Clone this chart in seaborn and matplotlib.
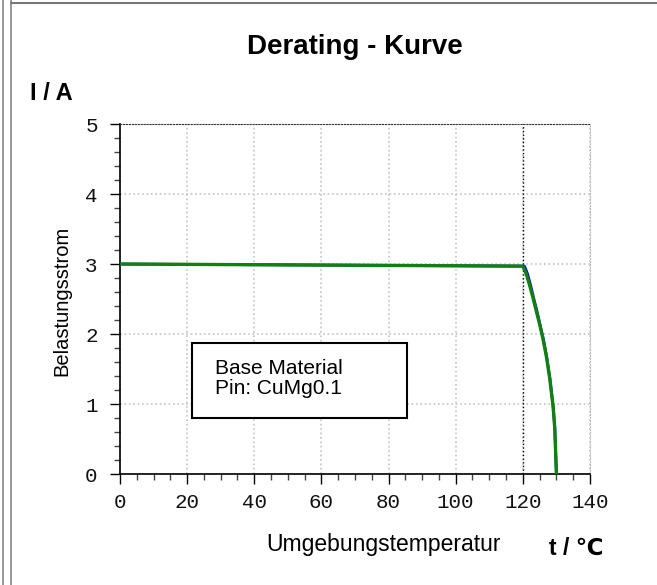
import seaborn as sns
import matplotlib.pyplot as plt
import matplotlib.patches as patches
from matplotlib.ticker import MultipleLocator
import pandas as pd

# Derating curve
temp_green = [0, 20, 40, 60, 80, 100, 120, 121, 122, 123, 124, 125, 126, 127, 128, 129, 129.5, 130]
curr_green = [3.0, 2.995, 2.99, 2.985, 2.98, 2.975, 2.97, 2.86, 2.7, 2.52, 2.33, 2.14, 1.93, 1.68, 1.37, 0.97, 0.66, 0.0]
temp_blue = [0, 20, 40, 60, 80, 100, 120.5, 121.4, 122.3, 123.2, 124.2, 125.1, 126.1, 127.1, 128.05, 129.02, 129.52, 130.0]
curr_blue = [3.0, 2.995, 2.99, 2.985, 2.98, 2.975, 2.97, 2.86, 2.7, 2.52, 2.33, 2.14, 1.93, 1.68, 1.37, 0.97, 0.66, 0.0]

x_ticks = [0, 20, 40, 60, 80, 100, 120, 140]
y_ticks = [0, 1, 2, 3, 4, 5]

sns.set_style("white")
plt.rcParams['font.family'] = ['Liberation Sans', 'DejaVu Sans']
plt.rcParams['text.color'] = 'black'

df_blue = pd.DataFrame({'t': temp_blue, 'I': curr_blue})
df_green = pd.DataFrame({'t': temp_green, 'I': curr_green})

fig = plt.figure(figsize=(6.57, 5.85), dpi=100)
ax = fig.add_axes([0.1826, 0.1897, 0.7154, 0.5983])

sns.lineplot(data=df_blue, x='t', y='I', color='#1010e0', linewidth=2.0, ax=ax, zorder=3)
sns.lineplot(data=df_green, x='t', y='I', color='#108010', linewidth=2.4, ax=ax, zorder=4)

ax.set_xlim(0, 140)
ax.set_ylim(0, 5)
ax.set_xticks(x_ticks)
ax.set_yticks(y_ticks)
ax.xaxis.set_minor_locator(MultipleLocator(5))
ax.yaxis.set_minor_locator(MultipleLocator(0.2))
ax.set_xlabel('')
ax.set_ylabel('')

for lab in ax.get_xticklabels() + ax.get_yticklabels():
    lab.set_fontfamily('Liberation Mono')
    lab.set_fontsize(15)
    lab.set_color('#111111')

ax.tick_params(axis='both', which='major', direction='out', length=7, width=1, color='black', left=True, bottom=True)
ax.tick_params(axis='both', which='minor', direction='out', length=4, width=1, color='#444444', left=True, bottom=True)
ax.tick_params(axis='x', pad=7)
ax.tick_params(axis='y', pad=9)

ax.grid(True, which='major', color='#c4c4c4', linestyle=':', linewidth=1.2)
ax.axvline(120, color='black', linestyle=':', linewidth=1, zorder=2)

ax.spines['left'].set_color('black')
ax.spines['bottom'].set_color('black')
ax.spines['left'].set_linewidth(1.2)
ax.spines['bottom'].set_linewidth(1.2)
ax.spines['top'].set_color('#333333')
ax.spines['top'].set_linestyle(':')
ax.spines['right'].set_color('#bbbbbb')
ax.spines['right'].set_linestyle(':')

# legend-like text box
ax.add_patch(patches.Rectangle((21.5, 0.8), 64, 1.07, transform=ax.transData,
                               facecolor='white', edgecolor='black', linewidth=1.5, zorder=5))
ax.text(28.2, 1.51, 'Base Material', fontsize=15, va='center', ha='left', zorder=6, color='black')
ax.text(28.2, 1.22, 'Pin: CuMg0.1', fontsize=15, va='center', ha='left', zorder=6, color='black')

fig.text(355 / 657, 1 - 47 / 585, 'Derating - Kurve', fontsize=20, fontweight='bold', ha='center', va='center', color='black')
fig.text(30 / 657, 1 - 94 / 585, 'I / A', fontsize=17, fontweight='bold', ha='left', va='center', color='black')
fig.text(62 / 657, 1 - 301 / 585, 'Belastungsstrom', fontsize=14.5, rotation=90, ha='center', va='center', color='black')
fig.text(383 / 657, 1 - 544 / 585, 'Umgebungstemperatur', fontsize=16.5, ha='center', va='center', color='black')
fig.text(549 / 657, 1 - 548 / 585, 't / ℃', fontsize=16.5, fontweight='bold', ha='left', va='center', color='black')

# outer window frame
for xf in (2.5 / 657, 10.5 / 657):
    fig.add_artist(plt.Line2D([xf, xf], [0, 1], color='#888888', linewidth=1.2))
fig.add_artist(plt.Line2D([10.5 / 657, 1], [1 - 3 / 585, 1 - 3 / 585], color='#777777', linewidth=1.5))

fig.savefig('out.png', dpi=100)
plt.close(fig)
